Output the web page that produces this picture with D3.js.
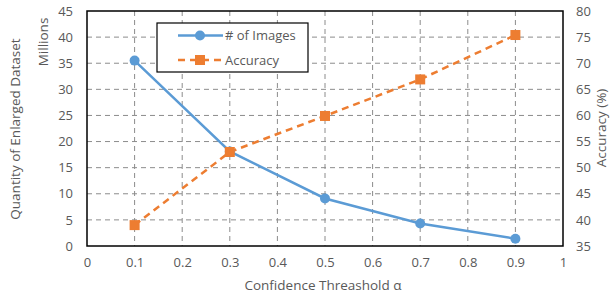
<!DOCTYPE html>
<html>
<head>
<meta charset="utf-8">
<script src="https://cdn.jsdelivr.net/npm/d3@7"></script>
<style>
  body { margin: 0; background: #fff; }
  text { font-family: "Open Sans", "Noto Sans", sans-serif; fill: #595959; }
</style>
</head>
<body>
<svg id="chart" width="613" height="298"></svg>
<script>
// data
var thresholds = [0.1, 0.3, 0.5, 0.7, 0.9];
var images = [35.5, 18.1, 9.1, 4.3, 1.4];      // millions
var accuracy = [39.0, 53.0, 59.9, 66.9, 75.4];  // %
var xTicks = [0, 0.1, 0.2, 0.3, 0.4, 0.5, 0.6, 0.7, 0.8, 0.9, 1];
var leftTicks = [0, 5, 10, 15, 20, 25, 30, 35, 40, 45];
var rightTicks = [35, 40, 45, 50, 55, 60, 65, 70, 75, 80];

var blue = '#5b9bd5', orange = '#ed7d31';

var margin = {top: 11, right: 50, bottom: 52, left: 87},
    width = 613, height = 298,
    chartWidth = width - margin.left - margin.right,
    chartHeight = height - margin.top - margin.bottom;

var svg = d3.select('#chart');
var g = svg.append('g')
    .attr('transform', 'translate(' + margin.left + ',' + margin.top + ')');

var x = d3.scaleLinear().domain([0, 1]).range([0, chartWidth]);
var yL = d3.scaleLinear().domain([0, 45]).range([chartHeight, 0]);
var yR = d3.scaleLinear().domain([35, 80]).range([chartHeight, 0]);

// grid lines
g.append('g').selectAll('line')
    .data(leftTicks.slice(1, -1))
  .enter().append('line')
    .attr('x1', 0).attr('x2', chartWidth)
    .attr('y1', function(d) { return yL(d); })
    .attr('y2', function(d) { return yL(d); })
    .attr('stroke', '#8c8c8c').attr('stroke-width', 1)
    .attr('stroke-dasharray', '5,4');

g.append('g').selectAll('line')
    .data(xTicks.slice(1, -1))
  .enter().append('line')
    .attr('y1', 0).attr('y2', chartHeight)
    .attr('x1', function(d) { return x(d); })
    .attr('x2', function(d) { return x(d); })
    .attr('stroke', '#8c8c8c').attr('stroke-width', 1)
    .attr('stroke-dasharray', '5,4');

// axes (labels only, border drawn separately)
var xAxis = d3.axisBottom(x).tickValues(xTicks).tickSize(0).tickPadding(12)
    .tickFormat(function(d) { return d === 0 || d === 1 ? d : d3.format('.1f')(d); });
var leftAxis = d3.axisLeft(yL).tickValues(leftTicks).tickSize(0).tickPadding(14);
var rightAxis = d3.axisRight(yR).tickValues(rightTicks).tickSize(0).tickPadding(13);

function styleAxis(sel) {
  sel.select('.domain').remove();
  sel.selectAll('text').style('font-size', '13px').attr('fill', '#595959')
     .style('font-family', '"Open Sans", "Noto Sans", sans-serif');
}

g.append('g').attr('transform', 'translate(0,' + chartHeight + ')').call(xAxis).call(styleAxis);
g.append('g').call(leftAxis).call(styleAxis);
g.append('g').attr('transform', 'translate(' + chartWidth + ',0)').call(rightAxis).call(styleAxis);

// plot border
g.append('rect')
    .attr('width', chartWidth).attr('height', chartHeight)
    .attr('fill', 'none').attr('stroke', '#000').attr('stroke-width', 1.5);

// series
var lineL = d3.line()
    .x(function(d, i) { return x(thresholds[i]); })
    .y(function(d) { return yL(d); });
var lineR = d3.line()
    .x(function(d, i) { return x(thresholds[i]); })
    .y(function(d) { return yR(d); });

g.append('path').datum(images)
    .attr('d', lineL).attr('fill', 'none')
    .attr('stroke', blue).attr('stroke-width', 2.5);
g.append('path').datum(accuracy)
    .attr('d', lineR).attr('fill', 'none')
    .attr('stroke', orange).attr('stroke-width', 2.5)
    .attr('stroke-dasharray', '7,5');

g.append('g').selectAll('circle')
    .data(images)
  .enter().append('circle')
    .attr('cx', function(d, i) { return x(thresholds[i]); })
    .attr('cy', function(d) { return yL(d); })
    .attr('r', 5).attr('fill', blue);

g.append('g').selectAll('rect')
    .data(accuracy)
  .enter().append('rect')
    .attr('x', function(d, i) { return x(thresholds[i]) - 5; })
    .attr('y', function(d) { return yR(d) - 5; })
    .attr('width', 10).attr('height', 10).attr('fill', orange);

// legend
var legend = svg.append('g').attr('transform', 'translate(157,23)');
legend.append('rect')
    .attr('width', 151).attr('height', 49)
    .attr('fill', '#fff').attr('stroke', '#000').attr('stroke-width', 1.2);

var entries = [
  {name: '# of Images', color: blue, dash: null, shape: 'circle'},
  {name: 'Accuracy', color: orange, dash: '7,5', shape: 'square'}
];
entries.forEach(function(e, i) {
  var ly = 12.5 + i * 24.5;
  legend.append('line')
      .attr('x1', 21).attr('x2', 66).attr('y1', ly).attr('y2', ly)
      .attr('stroke', e.color).attr('stroke-width', 2.5)
      .attr('stroke-dasharray', e.dash);
  if (e.shape === 'circle') {
    legend.append('circle').attr('cx', 43).attr('cy', ly).attr('r', 5).attr('fill', e.color);
  } else {
    legend.append('rect').attr('x', 38).attr('y', ly - 5)
        .attr('width', 10).attr('height', 10).attr('fill', e.color);
  }
  legend.append('text')
      .attr('x', 68).attr('y', ly).attr('dy', '0.35em')
      .style('font-size', '13px').text(e.name);
});

// axis titles
svg.append('text')
    .attr('x', 323).attr('y', 290).attr('text-anchor', 'middle')
    .style('font-size', '13.5px').text('Confidence Threashold α');

svg.append('text')
    .attr('transform', 'translate(20,129) rotate(-90)')
    .attr('text-anchor', 'middle')
    .style('font-size', '13.5px').text('Quantity of Enlarged Dataset');

svg.append('text')
    .attr('transform', 'translate(48,42) rotate(-90)')
    .attr('text-anchor', 'middle')
    .style('font-size', '13.5px').text('Millions');

svg.append('text')
    .attr('transform', 'translate(606,128) rotate(-90)')
    .attr('text-anchor', 'middle')
    .style('font-size', '13.5px').text('Accuracy (%)');
</script>
</body>
</html>
